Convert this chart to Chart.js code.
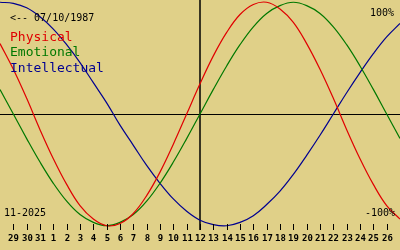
<!DOCTYPE html>
<html>
<head>
<meta charset="utf-8">
<script src="https://cdn.jsdelivr.net/npm/chart.js@4"></script>
<style>
  html, body { margin: 0; padding: 0; background: #e0d088; }
  #wrap { width: 400px; height: 250px; position: relative; }
</style>
</head>
<body>
<div id="wrap"><canvas id="bioChart"></canvas></div>
<script>
// day labels, one per x position (Oct 28 .. Nov 27)
const dayLabels = ['28', '29', '30', '31', '1', '2', '3', '4', '5', '6', '7', '8', '9', '10', '11', '12',
  '13', '14', '15', '16', '17', '18', '19', '20', '21', '22', '23', '24', '25', '26', '27'];

const physical = [0.63, 0.40, 0.14, -0.14, -0.40, -0.63, -0.82, -0.94, -1.00, -0.98, -0.89, -0.73, -0.52, -0.27, 0.00, 0.27,
  0.52, 0.73, 0.89, 0.98, 1.00, 0.94, 0.82, 0.63, 0.40, 0.14, -0.14, -0.40, -0.63, -0.82, -0.94];
const emotional = [0.22, 0.00, -0.22, -0.43, -0.62, -0.78, -0.90, -0.97, -1.00, -0.97, -0.90, -0.78, -0.62, -0.43, -0.22, 0.00,
  0.22, 0.43, 0.62, 0.78, 0.90, 0.97, 1.00, 0.97, 0.90, 0.78, 0.62, 0.43, 0.22, 0.00, -0.22];
const intellectual = [1.00, 0.99, 0.95, 0.87, 0.76, 0.62, 0.46, 0.28, 0.10, -0.10, -0.28, -0.46, -0.62, -0.76, -0.87, -0.95,
  -0.99, -1.00, -0.97, -0.91, -0.81, -0.69, -0.54, -0.37, -0.19, 0.00, 0.19, 0.37, 0.54, 0.69, 0.81];

const centerDay = 15;
const birthText = '<-- 07/10/1987';
const monthText = '11-2025';

function toPoints(arr) {
  return arr.map((v, i) => ({ x: i, y: v }));
}

const overlay = {
  id: 'overlay',
  beforeDatasetsDraw(chart) {
    const ctx = chart.ctx;
    const xs = chart.scales.x;
    const ys = chart.scales.y;
    ctx.save();
    ctx.strokeStyle = '#000';
    // zero line
    ctx.lineWidth = 1;
    const y0 = Math.round(ys.getPixelForValue(0)) + 0.5;
    ctx.beginPath();
    ctx.moveTo(0, y0);
    ctx.lineTo(400, y0);
    ctx.stroke();
    // today line
    const xc = xs.getPixelForValue(centerDay);
    ctx.lineWidth = 1.5;
    ctx.beginPath();
    ctx.moveTo(xc, 0);
    ctx.lineTo(xc, 230);
    ctx.stroke();
    ctx.restore();
  },
  afterDatasetsDraw(chart) {
    const ctx = chart.ctx;
    const xs = chart.scales.x;
    ctx.save();
    ctx.fillStyle = '#000';
    ctx.strokeStyle = '#000';
    ctx.lineWidth = 1;
    ctx.textAlign = 'center';
    ctx.textBaseline = 'alphabetic';
    ctx.font = 'bold 9px "DejaVu Sans Mono"';
    for (let i = 1; i < dayLabels.length - 1; i++) {
      const x = Math.round(xs.getPixelForValue(i)) + 0.5;
      ctx.beginPath();
      ctx.moveTo(x, 224);
      ctx.lineTo(x, 230);
      ctx.stroke();
      ctx.fillText(dayLabels[i], x, 241);
    }

    ctx.font = '10px "DejaVu Sans Mono"';
    ctx.textAlign = 'left';
    ctx.fillText(birthText, 10, 21);
    ctx.fillText(monthText, 4, 216);
    ctx.textAlign = 'right';
    ctx.fillText('100%', 394, 16);
    ctx.fillText('-100%', 395, 216);

    ctx.font = '13px "DejaVu Sans Mono"';
    ctx.textAlign = 'left';
    ctx.fillStyle = '#e00000';
    ctx.fillText('Physical', 10, 41);
    ctx.fillStyle = '#007800';
    ctx.fillText('Emotional', 10, 56);
    ctx.fillStyle = '#000090';
    ctx.fillText('Intellectual', 10, 72);
    ctx.restore();
  }
};

new Chart(document.getElementById('bioChart'), {
  type: 'line',
  data: {
    datasets: [
      { label: 'Physical', data: toPoints(physical), borderColor: '#e00000' },
      { label: 'Emotional', data: toPoints(emotional), borderColor: '#007800' },
      { label: 'Intellectual', data: toPoints(intellectual), borderColor: '#000090' }
    ]
  },
  options: {
    responsive: true,
    maintainAspectRatio: false,
    animation: false,
    layout: { padding: { top: 0, bottom: 22, left: 0, right: 0 } },
    elements: {
      line: { borderWidth: 1.2, tension: 0.4, fill: false },
      point: { radius: 0 }
    },
    plugins: { legend: { display: false }, tooltip: { enabled: false } },
    scales: {
      x: { type: 'linear', min: 0, max: 30, display: false },
      y: { min: -1.02, max: 1.02, display: false }
    }
  },
  plugins: [overlay]
});
</script>
</body>
</html>
